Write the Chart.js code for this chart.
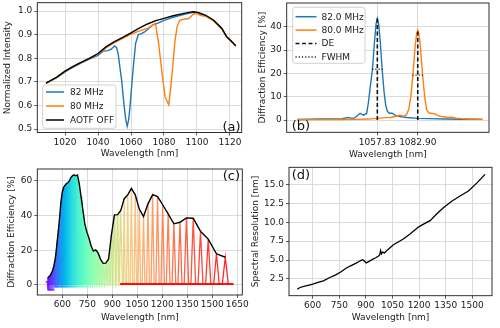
<!DOCTYPE html>
<html><head><meta charset="utf-8">
<script src="https://cdn.jsdelivr.net/npm/chart.js@4/dist/chart.umd.min.js"></script>
<style>
html,body{margin:0;padding:0;background:#fff;}
#wrap{position:relative;width:500px;height:328px;overflow:hidden;background:#fff;}
canvas{position:absolute;}
</style></head><body>
<div id="wrap">
<canvas id="ca" width="250" height="164" style="left:0;top:0"></canvas>
<canvas id="cb" width="250" height="164" style="left:250px;top:0"></canvas>
<canvas id="cc" width="250" height="164" style="left:0;top:164px"></canvas>
<canvas id="cd" width="250" height="164" style="left:250px;top:164px"></canvas>
</div>
<script>
// ---------- (a) normalized intensity ----------
const aOffWl  = [1008.5,1015,1020,1025,1030,1035,1040,1045,1050,1055,1060,1065,1070,1075,1080,1085,1090,1095,1098,1101,1105,1110,1115,1118,1120,1123.5];
const aOffInt = [0.694,0.72,0.745,0.765,0.783,0.80,0.82,0.849,0.87,0.888,0.907,0.927,0.945,0.959,0.969,0.979,0.987,0.994,0.997,0.993,0.983,0.962,0.927,0.891,0.878,0.853];
const a82Wl  = [1008.5,1015,1020,1025,1030,1035,1040,1043,1046,1048,1050,1051.3,1052.3,1053.3,1054.3,1055.1,1055.9,1056.7,1057.7,1058.6,1059.4,1060.4,1061.4,1062.8,1064.4,1066,1068,1070,1073,1076,1080,1085,1090,1095,1098,1101,1105,1110,1115,1118,1120,1123.5];
const a82Int = [0.694,0.718,0.742,0.762,0.78,0.797,0.812,0.83,0.832,0.838,0.852,0.845,0.814,0.76,0.708,0.65,0.594,0.545,0.512,0.54,0.595,0.68,0.764,0.863,0.9,0.903,0.91,0.922,0.94,0.948,0.96,0.972,0.982,0.99,0.994,0.99,0.98,0.96,0.925,0.89,0.877,0.852];
const a80Wl  = [1008.5,1015,1020,1025,1030,1035,1040,1045,1050,1055,1060,1065,1068,1070,1072,1074.8,1076.6,1078.6,1080.6,1082.9,1084.3,1085.3,1086.7,1088,1089.5,1092,1095,1097.5,1099.5,1102,1106,1110,1115,1118,1120,1123.5];
const a80Int = [0.694,0.719,0.744,0.764,0.782,0.799,0.818,0.845,0.866,0.884,0.902,0.915,0.922,0.926,0.935,0.948,0.87,0.75,0.637,0.603,0.69,0.764,0.877,0.935,0.96,0.965,0.968,0.985,0.99,0.982,0.975,0.958,0.925,0.89,0.877,0.852];
const aXTicks = [1020,1040,1060,1080,1100,1120];
const aYTicks = [0.5,0.6,0.7,0.8,0.9,1.0];

// ---------- (b) diffraction efficiency of two RF frequencies ----------
const b82Wl = [1008,1015,1022,1030,1036,1039.8,1042,1044,1047.1,1049.1,1051.2,1052.3,1053.5,1054.8,1056,1057,1057.83,1058.7,1059.7,1060.8,1062,1063,1064,1065.2,1067,1069,1072,1076,1083,1090,1100,1110,1123];
const b82De = [0.2,0.3,0.4,0.5,0.6,1.1,0.7,1.0,2.9,2.1,2.8,7.5,14.5,21.75,33,41,43.5,41,33,21.75,12,6.5,3.8,2.9,2.9,2.0,1.5,1.1,0.7,0.6,0.45,0.35,0.25];
const b80Wl = [1008,1020,1035,1045,1052,1058,1063,1066,1068.8,1071.9,1074,1075.8,1077.3,1078.6,1079.9,1081.2,1082.2,1082.9,1083.6,1084.6,1085.9,1087.2,1088.4,1089.8,1091.6,1093.5,1095.5,1097.5,1099,1101.9,1104,1107,1110,1115,1123];
const b80De = [0.1,0.15,0.2,0.25,0.4,0.7,1.0,1.1,1.5,2.1,1.6,2.2,4.5,10,19.25,31,37,38.5,37,31,19.25,10,4.5,3.0,2.9,2.6,1.9,1.5,1.4,1.1,1.2,0.8,0.6,0.45,0.3];
const bPeakWl = [1057.83,1082.90];
const bPeakDe = [43.5,38.5];
const bFwhmLo = [1054.6,1079.5];
const bFwhmHi = [1061.0,1086.3];
const bXTicks = [1057.83,1082.90];
const bYTicks = [0,10,20,30,40];

// ---------- (c) diffraction efficiency of every RF frequency ----------
const cCenterWl = [512.0,517.8,523.8,529.9,536.1,542.5,549.1,555.8,562.7,569.7,577.0,584.4,592.0,599.8,607.8,616.0,624.5,633.2,642.1,651.3,660.8,670.5,680.6,690.9,701.6,712.6,723.9,735.6,747.7,760.2,773.1,786.5,800.4,814.7,829.6,845.0,861.0,877.6,894.8,912.8,931.5,951.0,971.3,992.5,1014.6,1037.8,1062.0,1087.4,1114.1,1142.0,1171.5,1202.4,1235.1,1269.6,1306.0,1344.7,1385.6,1429.2,1475.6,1525.0,1578.0];
const cPeakDe = [4.0,4.6,5.2,6.0,7.2,8.5,11,14,19,25.5,32,39.5,48,53.5,56.3,57.5,58.5,59,60,62,63,63.6,63,63.5,58.5,51,43,35,30.5,27,22.5,19.6,20.2,18.5,14.8,12.5,12.6,15,29,40.5,40.6,43,49.8,52,55.7,52,43.8,39.5,46.8,52.1,51,46.3,41,35.3,36.2,38.7,38.5,31,26.5,18,16];
const cFwhm = [1.15,1.25,1.33,1.39,1.43,1.48,1.52,1.56,1.6,1.66,1.72,1.76,1.8,1.83,1.88,1.95,2.03,2.1,2.16,2.22,2.27,2.38,2.5,2.63,2.75,2.88,3.0,3.15,3.3,3.45,3.63,3.8,4.0,4.2,4.45,4.65,4.85,5.0,4.75,4.85,5.1,5.3,5.5,5.9,6.3,6.75,7.1,7.45,7.8,8.3,8.9,9.45,9.8,10.3,11.2,12.1,12.75,13.45,14.1,15.2,16.4];
const cVisNoiseHigh = 1.8, cVisNoiseLow = -1.0, cVioletNoiseLow = -2.8, cNirBase = 0.5;
const cNirStart = 948, cNirEnd = 1625, cVisLimit = 960;
const cXTicks = [600,750,900,1050,1200,1350,1500,1650];
const cYTicks = [0,20,40,60];

// ---------- (d) spectral resolution ----------
const dWl  = [513,528,545,560,580,600,630,660,697,730,760,792,820,850,867,882,893,902,915,935,955,970,978,983,988,995,1005,1015,1030,1055,1080,1111,1149,1196,1230,1262,1299,1337,1384,1431,1478,1525,1572];
const dRes = [1.15,1.38,1.5,1.58,1.7,1.83,2.05,2.26,2.7,3.05,3.45,3.98,4.3,4.65,4.9,5.05,4.85,4.62,4.8,5.05,5.3,5.5,5.7,6.25,5.8,6.05,5.95,6.2,6.5,7.02,7.35,7.78,8.44,9.35,9.8,10.2,11.08,11.9,12.76,13.45,14.1,15.15,16.3];
const dXTicks = [600,750,900,1050,1200,1350,1500];
const dYTicks = [2.5,5,7.5,10,12.5,15];

// ---------- helpers ----------
Chart.defaults.font.family = '"DejaVu Sans", sans-serif';
Chart.defaults.font.size = 9;
Chart.defaults.color = '#1a1a1a';
const GRID = '#d2d2d2';
const FONT = '"DejaVu Sans", sans-serif';
const xy = (xs, ys) => xs.map((x, i) => ({x: x, y: ys[i]}));

function opts(o) {
  return {
    responsive: false, animation: false, devicePixelRatio: 1, events: [],
    layout: {padding: {left: 0, right: o.padR, top: o.padT, bottom: 0}},
    plugins: {legend: {display: false}, tooltip: {enabled: false}},
    elements: {point: {radius: 0}, line: {tension: 0, fill: false}},
    scales: {
      x: {
        type: 'linear', min: o.xmin, max: o.xmax,
        afterBuildTicks: s => { s.ticks = o.xticks.map(v => ({value: v})); },
        ticks: {autoSkip: false, maxRotation: 0, padding: 1.5, callback: o.xfmt || (v => String(v))},
        grid: {color: GRID, lineWidth: 0.8, tickColor: '#333', tickLength: 3},
        border: {display: false},
        title: {display: true, text: 'Wavelength [nm]', padding: {top: 0, bottom: o.xtPad}},
        afterFit: s => { s.height = o.xH; s.paddingLeft = 0; s.paddingRight = 0; }
      },
      y: {
        type: 'linear', min: o.ymin, max: o.ymax,
        afterBuildTicks: s => { s.ticks = o.yticks.map(v => ({value: v})); },
        ticks: {autoSkip: false, padding: 2, callback: o.yfmt || (v => String(v))},
        grid: {color: GRID, lineWidth: 0.8, tickColor: '#333', tickLength: 3},
        border: {display: false},
        title: {display: true, text: o.ytitle, padding: {top: o.ytPad, bottom: 0}},
        afterFit: s => { s.width = o.yW; s.paddingTop = 0; s.paddingBottom = 0; }
      }
    }
  };
}

const framePlugin = {
  id: 'frame',
  afterDatasetsDraw(chart) {
    const {ctx, chartArea: a} = chart;
    ctx.save();
    ctx.strokeStyle = '#1a1a1a'; ctx.lineWidth = 0.9; ctx.setLineDash([]);
    ctx.strokeRect(a.left, a.top, a.right - a.left, a.bottom - a.top);
    ctx.restore();
  }
};

function legendPlugin(box, items) {
  return {
    id: 'mplLegend',
    afterDraw(chart) {
      const ctx = chart.ctx;
      ctx.save();
      const r = 2.5, {x0, y0, x1, y1} = box;
      ctx.beginPath();
      ctx.moveTo(x0 + r, y0); ctx.lineTo(x1 - r, y0); ctx.quadraticCurveTo(x1, y0, x1, y0 + r);
      ctx.lineTo(x1, y1 - r); ctx.quadraticCurveTo(x1, y1, x1 - r, y1);
      ctx.lineTo(x0 + r, y1); ctx.quadraticCurveTo(x0, y1, x0, y1 - r);
      ctx.lineTo(x0, y0 + r); ctx.quadraticCurveTo(x0, y0, x0 + r, y0);
      ctx.closePath();
      ctx.fillStyle = 'rgba(255,255,255,0.85)'; ctx.fill();
      ctx.strokeStyle = '#cccccc'; ctx.lineWidth = 0.9; ctx.stroke();
      ctx.font = '9px ' + FONT; ctx.textBaseline = 'middle'; ctx.textAlign = 'left';
      items.forEach((it, k) => {
        const y = box.ry + k * box.dy;
        ctx.beginPath(); ctx.setLineDash(it.dash || []);
        ctx.strokeStyle = it.color; ctx.lineWidth = 1.5;
        ctx.moveTo(box.hx0, y); ctx.lineTo(box.hx1, y); ctx.stroke();
        ctx.setLineDash([]);
        ctx.fillStyle = '#1a1a1a';
        ctx.fillText(it.label, box.tx, y + 0.5);
      });
      ctx.restore();
    }
  };
}

function panelLabel(text, x, y, align) {
  return {
    id: 'panelLabel',
    afterDraw(chart) {
      const ctx = chart.ctx;
      ctx.save();
      ctx.font = '13px ' + FONT; ctx.fillStyle = '#111';
      ctx.textAlign = align; ctx.textBaseline = 'alphabetic';
      ctx.fillText(text, x, y);
      ctx.restore();
    }
  };
}

function line(data, color, width, order, dash) {
  return {data: data, borderColor: color, borderWidth: width, pointRadius: 0, order: order,
          borderDash: dash || [], tension: 0, fill: false};
}

// ---------- (a) ----------
new Chart(document.getElementById('ca'), {
  type: 'line',
  data: {datasets: [
    Object.assign(line(xy(a82Wl, a82Int), '#1f77b4', 1.4, 3), {label: '82 MHz'}),
    Object.assign(line(xy(a80Wl, a80Int), '#ff7f0e', 1.4, 2), {label: '80 MHz'}),
    Object.assign(line(xy(aOffWl, aOffInt), '#000000', 1.4, 1), {label: 'AOTF OFF'})
  ]},
  options: opts({padR: 8.3, padT: 2.7, xH: 31.5, yW: 37.3, xmin: 1003.2, xmax: 1127.1, ymin: 0.4852, ymax: 1.0352,
    xticks: aXTicks, yticks: aYTicks, yfmt: v => v.toFixed(1), ytitle: 'Normalized Intensity', xtPad: 4.6, ytPad: 2.1}),
  plugins: [framePlugin,
    legendPlugin({x0: 42.7, y0: 85, x1: 116, y1: 128.3, ry: 92, dy: 14, hx0: 46, hx1: 64, tx: 70},
      [{label: '82 MHz', color: '#1f77b4'}, {label: '80 MHz', color: '#ff7f0e'}, {label: 'AOTF OFF', color: '#000'}]),
    panelLabel('(a)', 240.5, 130.5, 'right')]
});

// ---------- (b) ----------
const bSets = [
  line(xy(b82Wl, b82De), '#1f77b4', 1.4, 6),
  line(xy(b80Wl, b80De), '#ff7f0e', 1.4, 5)
];
bPeakWl.forEach((w, k) => {
  bSets.push(line([{x: w, y: 0}, {x: w, y: bPeakDe[k]}], '#111', 1.6, 2, [4, 2.5]));
  bSets.push(line([{x: bFwhmLo[k], y: bPeakDe[k] / 2}, {x: bFwhmHi[k], y: bPeakDe[k] / 2}], '#222', 1.3, 1, [1.2, 2]));
});
new Chart(document.getElementById('cb'), {
  type: 'line',
  data: {datasets: bSets},
  options: opts({padR: 11, padT: 3, xH: 31.7, yW: 36.7, xmin: 1001.6, xmax: 1127.1, ymin: -5.27, ymax: 50.16,
    xticks: bXTicks, yticks: bYTicks, xfmt: v => v.toFixed(2), ytitle: 'Diffraction Efficiency [%]', xtPad: 3.6, ytPad: 7.3}),
  plugins: [framePlugin,
    legendPlugin({x0: 42.7, y0: 7.3, x1: 115, y1: 63.3, ry: 16.7, dy: 13.4, hx0: 45.5, hx1: 66.5, tx: 71.5},
      [{label: '82.0 MHz', color: '#1f77b4'}, {label: '80.0 MHz', color: '#ff7f0e'},
       {label: 'DE', color: '#111', dash: [4, 2.5]}, {label: 'FWHM', color: '#222', dash: [1.2, 2]}]),
    panelLabel('(b)', 41.7, 130, 'left')]
});

// ---------- (c) ----------
function rainbowRGB(t) {
  const r = Math.min(1, Math.abs(2 * t - 0.5)), g = Math.sin(Math.PI * t), b = Math.cos(Math.PI * t / 2);
  return [Math.round(r * 255), Math.round(g * 255), Math.round(b * 255)];
}
function rainbow(t, a) { const c = rainbowRGB(t); return 'rgba(' + c[0] + ',' + c[1] + ',' + c[2] + ',' + a + ')'; }
const nSpk = cCenterWl.length;
// opacity of the dense (overlapping) visible-range fill, fading where the spectra separate
function denseAlpha(w) {
  if (w < 750) return 0.95;
  if (w > 985) return 0;
  return 0.95 - 0.8 * (w - 750) / 235;
}
const cVisIdx = cCenterWl.map((c, i) => i).filter(i => cCenterWl[i] < cVisLimit);
const cSets = [line(xy(cCenterWl, cPeakDe), '#000', 1.4, 0)];
cSets.push({
  data: cVisIdx.map(i => ({x: cCenterWl[i], y: cPeakDe[i]})),
  borderWidth: 0, borderColor: 'rgba(0,0,0,0)', pointRadius: 0, tension: 0, order: 2000,
  fill: 'origin',
  backgroundColor: (ctx) => {
    const chart = ctx.chart, a = chart.chartArea;
    if (!a) return 'rgba(0,0,0,0)';
    const sx = chart.scales.x;
    const g = chart.ctx.createLinearGradient(a.left, 0, a.right, 0);
    cVisIdx.forEach(i => {
      const off = (sx.getPixelForValue(cCenterWl[i]) - a.left) / (a.right - a.left);
      g.addColorStop(Math.min(1, Math.max(0, off)), rainbow(i / (nSpk - 1), denseAlpha(cCenterWl[i])));
    });
    return g;
  }
});
cCenterWl.forEach((c, i) => {
  const p = cPeakDe[i], fw = cFwhm[i];
  let pts;
  if (c < cVisLimit) {
    const low = i < 6 ? cVioletNoiseLow : cVisNoiseLow;
    const hb = 1.8 * fw;
    pts = [{x: c - 12, y: cVisNoiseHigh}, {x: c - hb, y: cVisNoiseHigh}, {x: c, y: p},
           {x: c + hb, y: low}, {x: c + 12, y: low}];
  } else {
    const hb = 1.1 * fw;
    pts = [{x: cNirStart, y: cNirBase}, {x: c - hb, y: cNirBase}, {x: c, y: p},
           {x: c + hb, y: cNirBase}, {x: cNirEnd, y: cNirBase}];
  }
  cSets.push(line(pts, rainbow(i / (nSpk - 1), 0.85), 1.3, 1000 - i));
});
new Chart(document.getElementById('cc'), {
  type: 'line',
  data: {datasets: cSets},
  options: opts({padR: 7.7, padT: 5, xH: 33, yW: 37.3, xmin: 450, xmax: 1680, ymin: -5.77, ymax: 66.92,
    xticks: cXTicks, yticks: cYTicks, ytitle: 'Diffraction Efficiency [%]', xtPad: 4.6, ytPad: 6.3}),
  plugins: [framePlugin, panelLabel('(c)', 240, 16, 'right')]
});

// ---------- (d) ----------
new Chart(document.getElementById('cd'), {
  type: 'line',
  data: {datasets: [line(xy(dWl, dRes), '#000', 1.3, 0)]},
  options: opts({padR: 8, padT: 3.3, xH: 32.3, yW: 39, xmin: 466.4, xmax: 1611.1, ymin: 0.296, ymax: 17.24,
    xticks: dXTicks, yticks: dYTicks, yfmt: v => v.toFixed(1), ytitle: 'Spectral Resolution [nm]', xtPad: 4.6, ytPad: 0.6}),
  plugins: [framePlugin, panelLabel('(d)', 41.7, 15, 'left')]
});
</script>
</body></html>
